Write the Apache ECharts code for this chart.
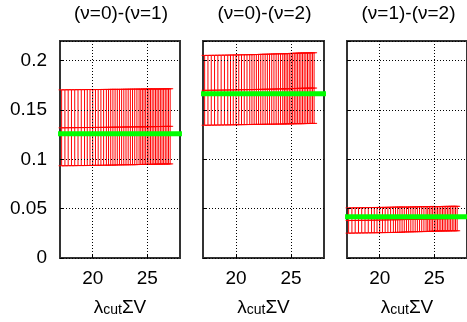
<!DOCTYPE html>
<html>
<head>
<meta charset="utf-8">
<script src="https://cdn.jsdelivr.net/npm/echarts@6/dist/echarts.min.js"></script>
<style>
  html, body { margin: 0; padding: 0; background: #fff; }
  #chart { width: 467px; height: 322px; }
</style>
</head>
<body>
<div id="chart"></div>
<script>
// panel titles
const titles = ['(ν=0)-(ν=1)', '(ν=0)-(ν=2)', '(ν=1)-(ν=2)'];
const xTicks = [20, 25];

// λcut ΣV sample points (shared by all panels)
const lambdaSV = [
  17.15, 17.45, 17.75, 18.05, 18.35, 18.65, 18.95, 19.25, 19.5, 19.75,
  20.0, 20.25, 20.5, 20.75, 21.0, 21.25, 21.45, 21.65, 21.85, 22.05,
  22.25, 22.45, 22.65, 22.85, 23.05, 23.25, 23.45, 23.65, 23.85, 24.05,
  24.25, 24.4, 24.55, 24.7, 24.85, 25.0, 25.15, 25.3, 25.45, 25.6,
  25.75, 25.9, 26.05, 26.2, 26.35, 26.5, 26.65, 26.8, 26.95, 27.1
];

// (v=0)-(v=1)
const p1Center = [
  0.1320, 0.1320, 0.1321, 0.1321, 0.1321, 0.1322, 0.1322, 0.1322, 0.1323, 0.1323,
  0.1323, 0.1324, 0.1324, 0.1324, 0.1325, 0.1325, 0.1325, 0.1326, 0.1326, 0.1326,
  0.1327, 0.1327, 0.1327, 0.1328, 0.1328, 0.1328, 0.1329, 0.1329, 0.1329, 0.1330,
  0.1330, 0.1330, 0.1330, 0.1331, 0.1331, 0.1331, 0.1331, 0.1332, 0.1332, 0.1332,
  0.1332, 0.1333, 0.1333, 0.1333, 0.1333, 0.1334, 0.1334, 0.1334, 0.1334, 0.1335
];
const p1Err = [
  0.0385, 0.0385, 0.0385, 0.0385, 0.0385, 0.0385, 0.0385, 0.0385, 0.0385, 0.0385,
  0.0384, 0.0384, 0.0384, 0.0384, 0.0384, 0.0384, 0.0384, 0.0384, 0.0384, 0.0384,
  0.0383, 0.0383, 0.0383, 0.0383, 0.0383, 0.0383, 0.0383, 0.0383, 0.0383, 0.0383,
  0.0382, 0.0382, 0.0382, 0.0382, 0.0382, 0.0382, 0.0382, 0.0382, 0.0382, 0.0382,
  0.0381, 0.0381, 0.0381, 0.0381, 0.0381, 0.0381, 0.0381, 0.0381, 0.0381, 0.0381
];

// (v=0)-(v=2)
const p2Center = [
  0.1700, 0.1700, 0.1701, 0.1701, 0.1702, 0.1702, 0.1703, 0.1703, 0.1704, 0.1704,
  0.1705, 0.1705, 0.1706, 0.1706, 0.1707, 0.1707, 0.1708, 0.1708, 0.1709, 0.1709,
  0.1710, 0.1710, 0.1711, 0.1711, 0.1712, 0.1712, 0.1713, 0.1713, 0.1714, 0.1714,
  0.1715, 0.1715, 0.1716, 0.1716, 0.1717, 0.1717, 0.1718, 0.1718, 0.1719, 0.1719,
  0.1720, 0.1720, 0.1720, 0.1721, 0.1721, 0.1721, 0.1722, 0.1722, 0.1722, 0.1723
];
const p2Err = [
  0.0354, 0.0354, 0.0354, 0.0354, 0.0354, 0.0354, 0.0354, 0.0354, 0.0354, 0.0354,
  0.0354, 0.0354, 0.0354, 0.0354, 0.0354, 0.0354, 0.0354, 0.0354, 0.0354, 0.0354,
  0.0355, 0.0355, 0.0355, 0.0355, 0.0355, 0.0356, 0.0356, 0.0356, 0.0356, 0.0356,
  0.0356, 0.0356, 0.0356, 0.0356, 0.0356, 0.0357, 0.0357, 0.0357, 0.0357, 0.0357,
  0.0358, 0.0358, 0.0358, 0.0358, 0.0358, 0.0358, 0.0358, 0.0358, 0.0358, 0.0358
];

// (v=1)-(v=2)
const p3Center = [
  0.0380, 0.0380, 0.0381, 0.0381, 0.0382, 0.0382, 0.0383, 0.0383, 0.0384, 0.0384,
  0.0385, 0.0385, 0.0386, 0.0386, 0.0387, 0.0387, 0.0388, 0.0388, 0.0389, 0.0389,
  0.0390, 0.0390, 0.0391, 0.0391, 0.0392, 0.0392, 0.0393, 0.0393, 0.0394, 0.0394,
  0.0395, 0.0395, 0.0396, 0.0396, 0.0397, 0.0397, 0.0397, 0.0398, 0.0398, 0.0398,
  0.0398, 0.0399, 0.0399, 0.0399, 0.0399, 0.0400, 0.0400, 0.0400, 0.0400, 0.0400
];
const p3Err = [
  0.0128, 0.0128, 0.0128, 0.0128, 0.0128, 0.0128, 0.0128, 0.0128, 0.0128, 0.0128,
  0.0128, 0.0128, 0.0128, 0.0128, 0.0128, 0.0128, 0.0128, 0.0128, 0.0128, 0.0128,
  0.0126, 0.0126, 0.0126, 0.0126, 0.0126, 0.0126, 0.0126, 0.0126, 0.0126, 0.0126,
  0.0126, 0.0126, 0.0126, 0.0126, 0.0126, 0.0124, 0.0124, 0.0124, 0.0124, 0.0124,
  0.0124, 0.0124, 0.0124, 0.0124, 0.0124, 0.0124, 0.0124, 0.0124, 0.0124, 0.0124
];

// fitted constant (green line) per panel
const fitLevels = [0.126, 0.1666, 0.0418];

const X_MIN = 17, X_MAX = 28;
const FONT = '"Liberation Sans", Arial, sans-serif';
const FS = 19;

const panels = [
  { left: 60, width: 120, center: p1Center, err: p1Err },
  { left: 203, width: 121, center: p2Center, err: p2Err },
  { left: 347, width: 121, center: p3Center, err: p3Err }
];

function renderErrBar(params, api) {
  const x = api.value(0);
  const lo = api.coord([x, api.value(1)]);
  const mid = api.coord([x, api.value(2)]);
  const hi = api.coord([x, api.value(3)]);
  const w = 3;
  const style = { stroke: '#ff0000', lineWidth: 1 };
  const cap = p => ({ type: 'line', shape: { x1: p[0] - w, y1: p[1], x2: p[0] + w, y2: p[1] }, style });
  return {
    type: 'group',
    children: [
      { type: 'line', shape: { x1: lo[0], y1: lo[1], x2: hi[0], y2: hi[1] }, style },
      cap(lo), cap(mid), cap(hi)
    ]
  };
}

const grid = [], xAxis = [], yAxis = [], series = [], graphic = [];

panels.forEach((p, i) => {
  grid.push({
    left: p.left, width: p.width, top: 41, bottom: 64,
    show: true, borderColor: '#333', borderWidth: 2, backgroundColor: '#fff'
  });
  xAxis.push({
    type: 'value', gridIndex: i, min: X_MIN, max: X_MAX, z: 2,
    axisLine: { show: false },
    axisTick: { show: true, inside: true, length: 4, lineStyle: { color: '#000' }, customValues: xTicks },
    axisLabel: { color: '#000', fontSize: FS, fontFamily: FONT, margin: 11, customValues: xTicks },
    splitLine: { show: true, lineStyle: { color: '#000', type: [1, 2], width: 1 } },
    nameLocation: 'middle', nameGap: 39,
    name: '{a|λ}{b|cut}{a|ΣV}',
    nameTextStyle: {
      rich: {
        a: { fontSize: FS, fontFamily: FONT, color: '#000', verticalAlign: 'top', lineHeight: 19 },
        b: { fontSize: 14, fontFamily: FONT, color: '#000', verticalAlign: 'bottom', lineHeight: 14, padding: [10, 0, 0, 0] }
      }
    }
  });
  yAxis.push({
    type: 'value', gridIndex: i, min: 0, max: 0.22, interval: 0.05, z: 2,
    axisLine: { show: false },
    axisTick: { show: true, inside: true, length: 4, lineStyle: { color: '#000' } },
    axisLabel: {
      show: i === 0, color: '#000', fontSize: FS, fontFamily: FONT, margin: 13,
      showMaxLabel: false
    },
    splitLine: { show: true, lineStyle: { color: '#000', type: [1, 2], width: 1 } }
  });
  series.push({
    type: 'custom', xAxisIndex: i, yAxisIndex: i, z: 1, silent: true,
    renderItem: renderErrBar,
    encode: { x: 0, y: [1, 3] },
    data: lambdaSV.map((x, k) => [x, p.center[k] - p.err[k], p.center[k], p.center[k] + p.err[k]])
  });
  series.push({
    type: 'line', xAxisIndex: i, yAxisIndex: i, z: 5, silent: true, clip: false,
    symbol: 'none',
    lineStyle: { color: '#00ff00', width: 5 },
    data: [[X_MIN - 0.18, fitLevels[i]], [X_MAX + 0.18, fitLevels[i]]]
  });
  graphic.push({
    type: 'text', x: p.left + p.width / 2 + 1, y: 4,
    style: { text: titles[i], font: FS + 'px ' + FONT, fill: '#000', align: 'center' }
  });
});

const chart = echarts.init(document.getElementById('chart'));
chart.setOption({
  animation: false,
  backgroundColor: '#fff',
  grid, xAxis, yAxis, series, graphic
});
</script>
</body>
</html>
